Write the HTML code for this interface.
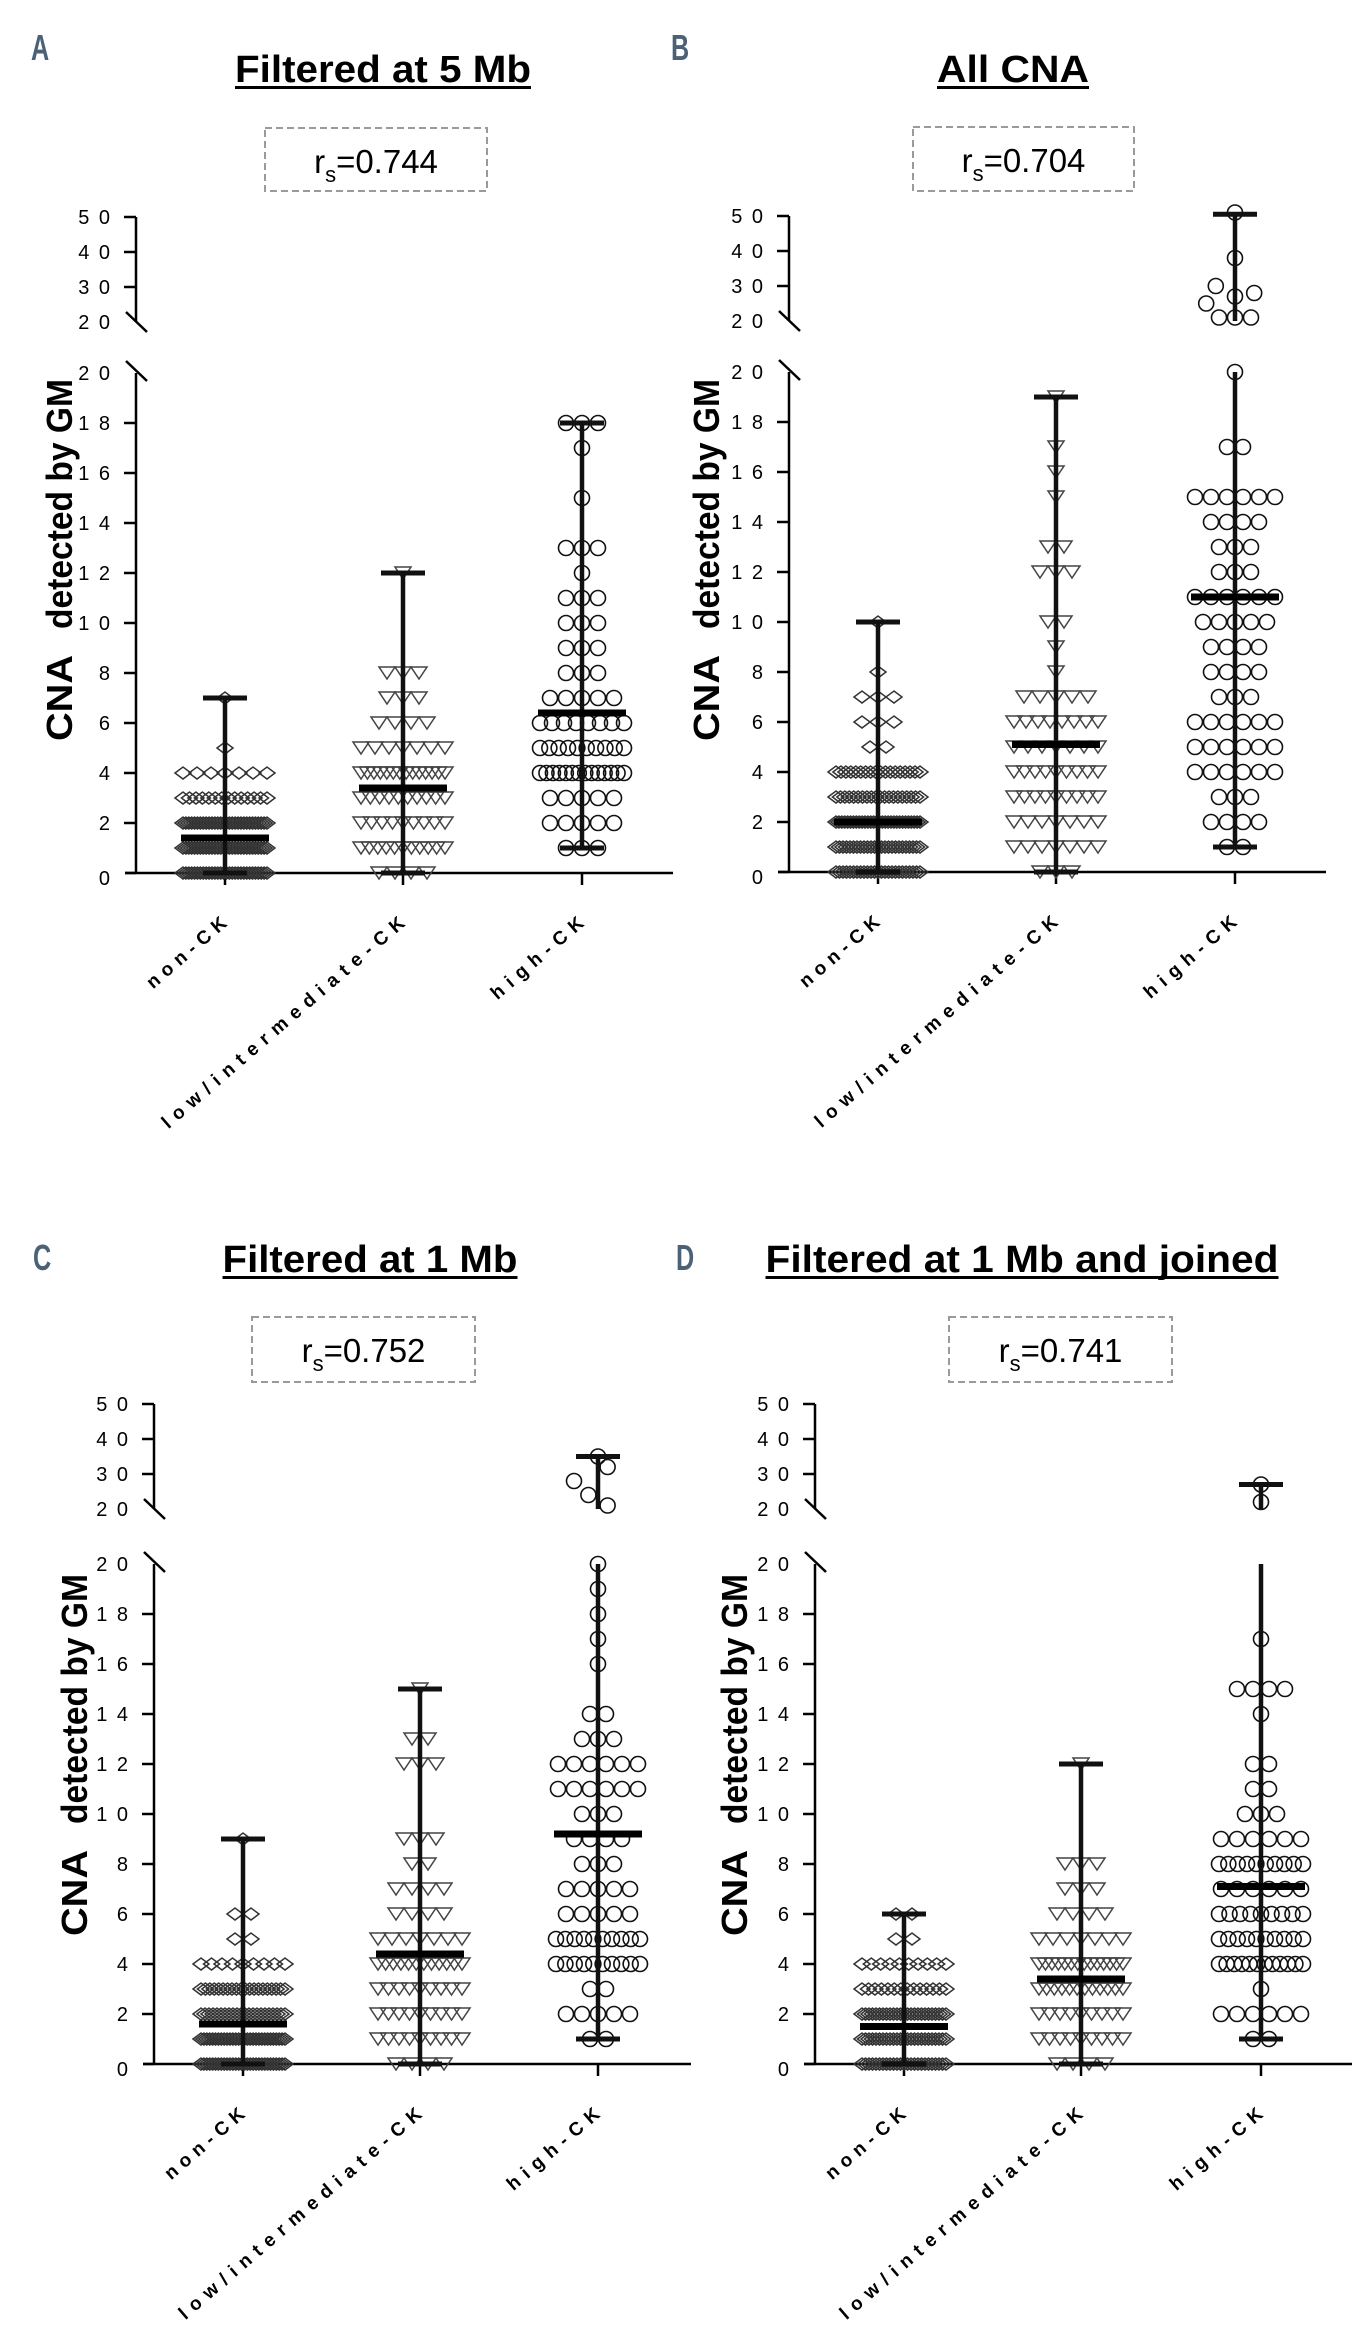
<!DOCTYPE html>
<html><head><meta charset="utf-8"><style>
html,body{margin:0;padding:0;background:#fff;}
svg{display:block;font-family:"Liberation Sans",Arial,sans-serif;}
</style></head><body>
<svg id="fig" width="1371" height="2342" viewBox="0 0 1371 2342" xmlns="http://www.w3.org/2000/svg"></svg>
<script>
// ---------- DATA ----------
const categories = ["non-CK", "low/intermediate-CK", "high-CK"];
const upperTicks = [50, 40, 30, 20];
const lowerTicks = [0, 2, 4, 6, 8, 10, 12, 14, 16, 18, 20];
const tickLabels = {0:"0",2:"2",4:"4",6:"6",8:"8",10:"1 0",12:"1 2",14:"1 4",16:"1 6",18:"1 8",20:"2 0",30:"3 0",40:"4 0",50:"5 0"};

const titles = ["Filtered at 5 Mb", "All CNA", "Filtered at 1 Mb", "Filtered at 1 Mb and joined"];
const letters = ["A", "B", "C", "D"];
const rsValues = ["0.744", "0.704", "0.752", "0.741"];

// Panel A
const A_non_vals = [0,1,2,3,4,5,7];
const A_non_cnt  = [30,30,30,14,7,1,1];
const A_low_vals = [0,1,2,3,4,5,6,7,8,12];
const A_low_cnt  = [4,11,9,10,14,7,4,3,3,1];
const A_high_vals = [1,2,3,4,5,6,7,8,9,10,11,12,13,15,17,18];
const A_high_cnt  = [3,5,5,14,10,8,5,3,3,3,3,1,3,1,1,3];
const A_medians = [1.4, 3.4, 6.4];
const A_mins = [0, 0, 1];
const A_maxs = [7, 12, 18];

// Panel B
const B_non_vals = [0,1,2,3,4,5,6,7,8,10];
const B_non_cnt  = [25,25,30,20,18,2,3,3,1,1];
const B_low_vals = [0,1,2,3,4,5,6,7,8,9,10,12,13,15,16,17,19];
const B_low_cnt  = [3,7,7,9,9,7,8,5,1,1,2,3,2,1,1,1,1];
const B_high_vals = [1,2,3,4,5,6,7,8,9,10,11,12,13,14,15,17,20,21,25,27,28,30,38,51];
const B_high_cnt  = [2,4,3,6,6,6,3,4,4,5,6,3,3,4,6,2,1,3,1,1,1,1,1,1];
const B_high_slot = {25:-1.8, 28:1.2, 30:-1.2};
const B_medians = [2, 5.1, 11];
const B_mins = [0, 0, 1];
const B_maxs = [10, 19, 50.5];

// Panel C
const C_non_vals = [0,1,2,3,4,5,6,9];
const C_non_cnt  = [30,30,22,20,9,2,2,1];
const C_low_vals = [0,1,2,3,4,5,6,7,8,9,12,13,15];
const C_low_cnt  = [4,9,9,9,12,7,4,4,2,3,3,2,1];
const C_high_vals = [1,2,3,4,5,6,7,8,9,10,11,12,13,14,16,17,18,19,20,21,24,28,32,35];
const C_high_cnt  = [2,5,2,10,10,5,5,3,4,3,6,6,3,2,1,1,1,1,1,1,1,1,1,1];
const C_high_slot = {21:0.6, 24:-0.6, 28:-1.5, 32:0.6};
const C_medians = [1.6, 4.4, 9.2];
const C_mins = [0, 0, 1];
const C_maxs = [9, 15, 35];

// Panel D
const D_non_vals = [0,1,2,3,4,5,6];
const D_non_cnt  = [25,25,25,14,10,2,2];
const D_low_vals = [0,1,2,3,4,5,6,7,8,12];
const D_low_cnt  = [4,9,9,12,14,7,4,3,3,1];
const D_high_vals = [1,2,3,4,5,6,7,8,9,10,11,12,14,15,17,22,27];
const D_high_cnt  = [2,6,1,12,10,9,6,10,6,3,2,2,1,4,1,1,1];
const D_medians = [1.5, 3.4, 7.1];
const D_mins = [0, 0, 1];
const D_maxs = [6, 12, 27];

// ---------- LAYOUT ----------
const NS = "http://www.w3.org/2000/svg";
const svg = document.getElementById("fig");
function mk(tag, attrs, parent) {
  const e = document.createElementNS(NS, tag);
  for (const k in attrs) e.setAttribute(k, attrs[k]);
  (parent || svg).appendChild(e);
  return e;
}

const panels = [
  {ax:136, zero:873, y50:217, cats:[225,403,582], xStart:125, xEnd:673, tx:383, tBase:82, tLen:296, box:[265,128,222,63], ylx:72, ylc:560, lx:31, ly:60,
   groups:[[A_non_vals,A_non_cnt],[A_low_vals,A_low_cnt],[A_high_vals,A_high_cnt]], slots:{}, med:A_medians, mins:A_mins, maxs:A_maxs},
  {ax:789, zero:872, y50:216, cats:[878,1056,1235], xStart:778, xEnd:1326, tx:1013, tBase:82, tLen:152, box:[913,127,221,64], ylx:719, ylc:560, lx:671, ly:60,
   groups:[[B_non_vals,B_non_cnt],[B_low_vals,B_low_cnt],[B_high_vals,B_high_cnt]], slots:B_high_slot, med:B_medians, mins:B_mins, maxs:B_maxs},
  {ax:154, zero:2064, y50:1404, cats:[243,420,598], xStart:143, xEnd:691, tx:370, tBase:1272, tLen:295, box:[252,1317,223,65], ylx:87, ylc:1755, lx:33, ly:1270,
   groups:[[C_non_vals,C_non_cnt],[C_low_vals,C_low_cnt],[C_high_vals,C_high_cnt]], slots:C_high_slot, med:C_medians, mins:C_mins, maxs:C_maxs},
  {ax:815, zero:2064, y50:1404, cats:[904,1081,1261], xStart:804, xEnd:1352, tx:1022, tBase:1272, tLen:513, box:[949,1317,223,65], ylx:747, ylc:1755, lx:676, ly:1270,
   groups:[[D_non_vals,D_non_cnt],[D_low_vals,D_low_cnt],[D_high_vals,D_high_cnt]], slots:{}, med:D_medians, mins:D_mins, maxs:D_maxs}
];

const LOWER_PX = 25;
const UPPER_PX = 3.5;
function yLow(p, v) { return p.zero - v * LOWER_PX; }
function yUp(p, v) { return p.y50 + (50 - v) * UPPER_PX; }
function yVal(p, v) { return v <= 20 ? yLow(p, v) : yUp(p, v); }

const markerNames = ["diamond-marker", "triangle-marker", "circle-marker"];
const groupNames = ["non-ck", "low-intermediate-ck", "high-ck"];

function drawMarker(g, type, x, y) {
  let e;
  if (type === 0) {
    e = mk("polygon", {points:`${x-8},${y} ${x},${y-6} ${x+8},${y} ${x},${y+6}`, fill:"none", stroke:"#333", "stroke-width":1.5}, g);
  } else if (type === 1) {
    e = mk("polygon", {points:`${x-8},${y-6} ${x+8},${y-6} ${x},${y+6}`, fill:"none", stroke:"#444", "stroke-width":1.5}, g);
  } else {
    e = mk("circle", {cx:x, cy:y, r:7.5, fill:"none", stroke:"#111", "stroke-width":1.6}, g);
  }
  
  
}

panels.forEach((p, pi) => {
  const pg = mk("g", {});
  
  

  const L = mk("text", {x:p.lx, y:p.ly, "font-size":36, "font-weight":"bold", fill:"#4b6276", transform:`translate(${p.lx},${p.ly}) scale(0.7,1) translate(${-p.lx},${-p.ly})`}, pg);
  L.textContent = letters[pi];
  
  

  const T = mk("text", {x:p.tx, y:p.tBase, "text-anchor":"middle", "font-size":38, "font-weight":"bold", textLength:p.tLen, lengthAdjust:"spacingAndGlyphs"}, pg);
  T.textContent = titles[pi];
  
  
  const U = mk("rect", {x:p.tx - p.tLen/2, y:p.tBase + 4, width:p.tLen, height:3, fill:"#000"}, pg);
  
  

  const B = mk("rect", {x:p.box[0], y:p.box[1], width:p.box[2], height:p.box[3], fill:"none", stroke:"#9a9a9a", "stroke-width":2, "stroke-dasharray":"7 4"}, pg);
  
  
  const R = mk("text", {x:p.box[0] + p.box[2]/2, y:p.box[1] + 45, "text-anchor":"middle", "font-size":33}, pg);
  
  
  const t1 = mk("tspan", {}, R); t1.textContent = "r";
  const t2 = mk("tspan", {"font-size":22, dy:9}, R); t2.textContent = "s";
  const t3 = mk("tspan", {dy:-9}, R); t3.textContent = "=" + rsValues[pi];

  const Y1 = mk("text", {x:p.ylx, y:p.ylc + 181, "text-anchor":"start", "font-size":36, "font-weight":"bold", transform:`rotate(-90 ${p.ylx} ${p.ylc + 181})`, textLength:86, lengthAdjust:"spacingAndGlyphs"}, pg);
  Y1.textContent = "CNA";
  
  
  const Y2 = mk("text", {x:p.ylx, y:p.ylc - 181, "text-anchor":"end", "font-size":36, "font-weight":"bold", transform:`rotate(-90 ${p.ylx} ${p.ylc - 181})`, textLength:250, lengthAdjust:"spacingAndGlyphs"}, pg);
  Y2.textContent = "detected by GM";
  
  

  const upBottom = yUp(p, 20);
  const ua = mk("line", {x1:p.ax, y1:p.y50, x2:p.ax, y2:upBottom, stroke:"#000", "stroke-width":2.5}, pg);
  
  
  const us = mk("line", {x1:p.ax-10, y1:upBottom-10, x2:p.ax+11, y2:upBottom+10, stroke:"#000", "stroke-width":2.5}, pg);
  
  
  upperTicks.forEach(v => {
    const y = yUp(p, v);
    if (v !== 20) {
      const tk = mk("line", {x1:p.ax-12, y1:y, x2:p.ax, y2:y, stroke:"#000", "stroke-width":2.5}, pg);
      
      
    }
    const tl = mk("text", {x:p.ax-24, y:y+7, "text-anchor":"end", "font-size":20, "letter-spacing":2}, pg);
    tl.textContent = tickLabels[v];
    
    
  });

  const lowTop = yLow(p, 20);
  const la = mk("line", {x1:p.ax, y1:lowTop, x2:p.ax, y2:p.zero, stroke:"#000", "stroke-width":2.5}, pg);
  
  
  const ls = mk("line", {x1:p.ax-10, y1:lowTop-12, x2:p.ax+11, y2:lowTop+8, stroke:"#000", "stroke-width":2.5}, pg);
  
  
  lowerTicks.forEach(v => {
    const y = yLow(p, v);
    if (v !== 20) {
      const tk = mk("line", {x1:(v === 0 ? p.xStart : p.ax-12), y1:y, x2:p.ax, y2:y, stroke:"#000", "stroke-width":2.5}, pg);
      
      
    }
    const tl = mk("text", {x:p.ax-24, y:y+(v === 0 ? 12 : 7), "text-anchor":"end", "font-size":20, "letter-spacing":2}, pg);
    tl.textContent = tickLabels[v];
    
    
  });
  const xa = mk("line", {x1:p.xStart, y1:p.zero, x2:p.xEnd, y2:p.zero, stroke:"#000", "stroke-width":2.5}, pg);
  
  

  p.cats.forEach((cx, gi) => {
    const gg = mk("g", {}, pg);
    
    

    const xt = mk("line", {x1:cx, y1:p.zero, x2:cx, y2:p.zero+12, stroke:"#000", "stroke-width":2.5}, gg);
    
    

    const lx = cx + 3, ly = p.zero + 52;
    const xl = mk("text", {x:lx, y:ly, "text-anchor":"end", "font-size":19, "font-weight":"bold", textLength:categories[gi].length * 16.5, lengthAdjust:"spacing", transform:`rotate(-40.7 ${lx} ${ly})`}, gg);
    xl.textContent = categories[gi];
    
    

    const vals = p.groups[gi][0], cnt = p.groups[gi][1];
    vals.forEach((v, k) => {
      const n = cnt[k];
      const s = n > 1 ? Math.min(16, 84 / (n - 1)) : 0;
      const y = yVal(p, v);
      const off = (gi === 2 && n === 1 && p.slots[v] !== undefined) ? p.slots[v] * 16 : 0;
      for (let i = 0; i < n; i++) drawMarker(gg, gi, cx + off + (i - (n - 1) / 2) * s, y);
    });

    const mn = p.mins[gi], mx = p.maxs[gi];
    const wTop = mx <= 20 ? yLow(p, mx) : yLow(p, 20);
    const w1 = mk("line", {x1:cx, y1:yLow(p, mn), x2:cx, y2:wTop, stroke:"#111", "stroke-width":4.5}, gg);
    
    
    if (mx > 20) {
      const w2 = mk("line", {x1:cx, y1:yUp(p, 20), x2:cx, y2:yUp(p, mx), stroke:"#111", "stroke-width":4.5}, gg);
      
      
    }
    const capTop = mk("rect", {x:cx-22, y:yVal(p, mx)-2.5, width:44, height:5, fill:"#111"}, gg);
    
    
    const capBot = mk("rect", {x:cx-22, y:yVal(p, mn)-2.5, width:44, height:5, fill:"#111"}, gg);
    
    
    const md = mk("rect", {x:cx-44, y:yLow(p, p.med[gi])-3.5, width:88, height:7, fill:"#000"}, gg);
    
    
  });
});
</script>
</body></html>
